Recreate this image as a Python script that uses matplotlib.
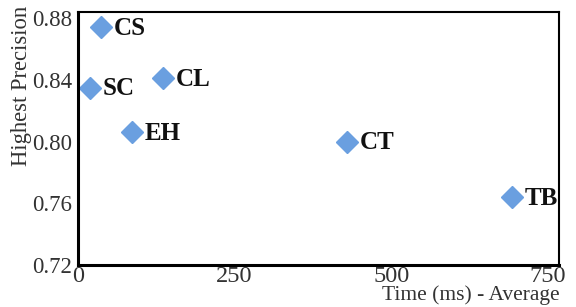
import matplotlib
matplotlib.use("Agg")
import matplotlib.pyplot as plt

plt.rcParams['font.family'] = ['Liberation Serif', 'DejaVu Serif']

methods = ["CS", "SC", "CL", "EH", "CT", "TB"]
time_ms = [37, 19, 136, 86, 430, 693]
precision = [0.874, 0.835, 0.841, 0.806, 0.800, 0.764]

xticks = [0, 250, 500, 750]
yticks = [0.72, 0.76, 0.80, 0.84, 0.88]

fig = plt.figure(figsize=(5.76, 3.07), dpi=100)
ax = fig.add_axes([78/576, 42/307, 481/576, 253/307])

ax.plot(time_ms, precision, linestyle='none', marker='D', ms=11,
        color='#6a9fe0', markeredgecolor='#6a9fe0')

for name, x, y in zip(methods, time_ms, precision):
    ax.annotate(name, (x, y), xytext=(9, -1), textcoords='offset points',
                ha='left', va='center', fontsize=18, fontweight='bold',
                color='#111111')

ax.set_xlim(0, 768)
ax.set_ylim(0.72, 0.884)
ax.set_xticks(xticks)
ax.set_xticklabels([str(t) for t in xticks])
ax.set_yticks(yticks)
ax.set_yticklabels(["%.2f" % t for t in yticks])
ax.tick_params(length=0, colors='#333333')
ax.tick_params(axis='x', labelsize=17.5, pad=1)
ax.tick_params(axis='y', labelsize=16.5, pad=4)

for side in ['left', 'bottom']:
    ax.spines[side].set_linewidth(2.2)
for side in ['top', 'right']:
    ax.spines[side].set_linewidth(1.5)

fig.text(22/576, 1 - 86/307, "Highest Precision", rotation=90,
         ha='center', va='center', fontsize=16.3, color='#333333')
fig.text(560/576, 1 - 295/307, "Time (ms) - Average",
         ha='right', va='center', fontsize=15.5, color='#333333')

fig.savefig("out.png", dpi=100)
